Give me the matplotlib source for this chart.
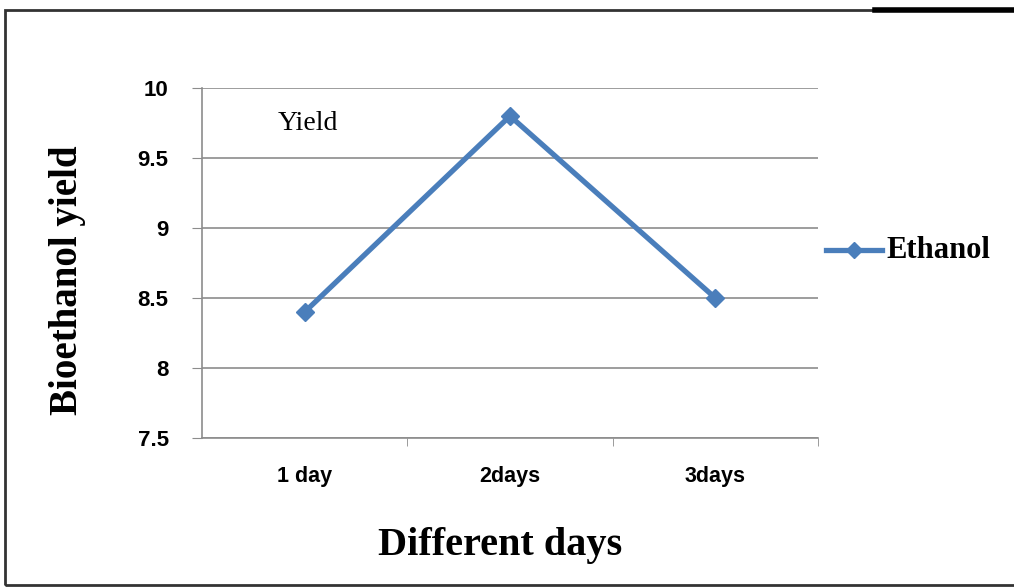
import matplotlib.pyplot as plt
from matplotlib.lines import Line2D
from matplotlib.patches import Rectangle

days = ['1 day', '2days', '3days']
ethanol = [8.4, 9.8, 8.5]
yticks = [7.5, 8, 8.5, 9, 9.5, 10]
ytick_labels = ['7.5', '8', '8.5', '9', '9.5', '10']

blue = '#4a7ebb'
grid_gray = '#8c8c8c'

fig = plt.figure(figsize=(10.14, 5.87), dpi=100)
ax = fig.add_axes([202 / 1014, 1 - 438 / 587, 616 / 1014, 350 / 587])

x = range(len(days))
ax.plot(x, ethanol, color=blue, lw=3.8, marker='D', markersize=9,
        markerfacecolor=blue, markeredgecolor=blue, zorder=3)

ax.set_xlim(-0.5, 2.5)
ax.set_ylim(7.5, 10)
ax.set_yticks(yticks)
ax.set_yticklabels(ytick_labels, fontsize=16, fontweight='bold',
                   family='Liberation Sans')
ax.set_xticks(list(x))
ax.set_xticklabels(days, fontsize=15.5, fontweight='bold', family='Liberation Sans')
ax.tick_params(axis='x', length=0, pad=20)
ax.set_xticks([0.5, 1.5, 2.5], minor=True)
ax.tick_params(axis='x', which='minor', length=6, color=grid_gray, direction='out')
ax.tick_params(axis='y', length=7, color=grid_gray, direction='out', pad=17)

ax.grid(axis='y', color=grid_gray, lw=1.2)
ax.set_axisbelow(True)
for side in ['top', 'right']:
    ax.spines[side].set_visible(False)
for side in ['left', 'bottom']:
    ax.spines[side].set_color(grid_gray)
    ax.spines[side].set_linewidth(1.2)

ax.text(-0.13, 9.7, 'Yield', fontsize=20, family='Liberation Serif',
        va='baseline')

fig.text(68 / 1014, 1 - 280 / 587, 'Bioethanol yield', rotation=90,
         ha='center', va='center', fontsize=28, fontweight='bold',
         family='Liberation Serif')
fig.text(500 / 1014, 1 - 545 / 587, 'Different days', ha='center',
         va='center', fontsize=29, fontweight='bold', family='Liberation Serif')

# legend drawn by hand to the right of the plot
fig.add_artist(Line2D([826 / 1014, 882 / 1014], [1 - 250 / 587] * 2,
                      color=blue, lw=3.8))
fig.add_artist(Line2D([854 / 1014], [1 - 250 / 587], color=blue,
                      marker='D', markersize=8))
fig.text(886 / 1014, 1 - 250 / 587, 'Ethanol', ha='left', va='center',
         fontsize=22, fontweight='bold', family='Liberation Serif')

# frame around the chart
fig.add_artist(Rectangle((5 / 1014, 2 / 587), 1.2, 1 - 12 / 587,
                         transform=fig.transFigure, fill=False,
                         edgecolor='#333333', lw=2))
fig.add_artist(Line2D([875 / 1014, 1], [1 - 10 / 587] * 2, color='black', lw=4))

fig.savefig('out.png', dpi=100)
